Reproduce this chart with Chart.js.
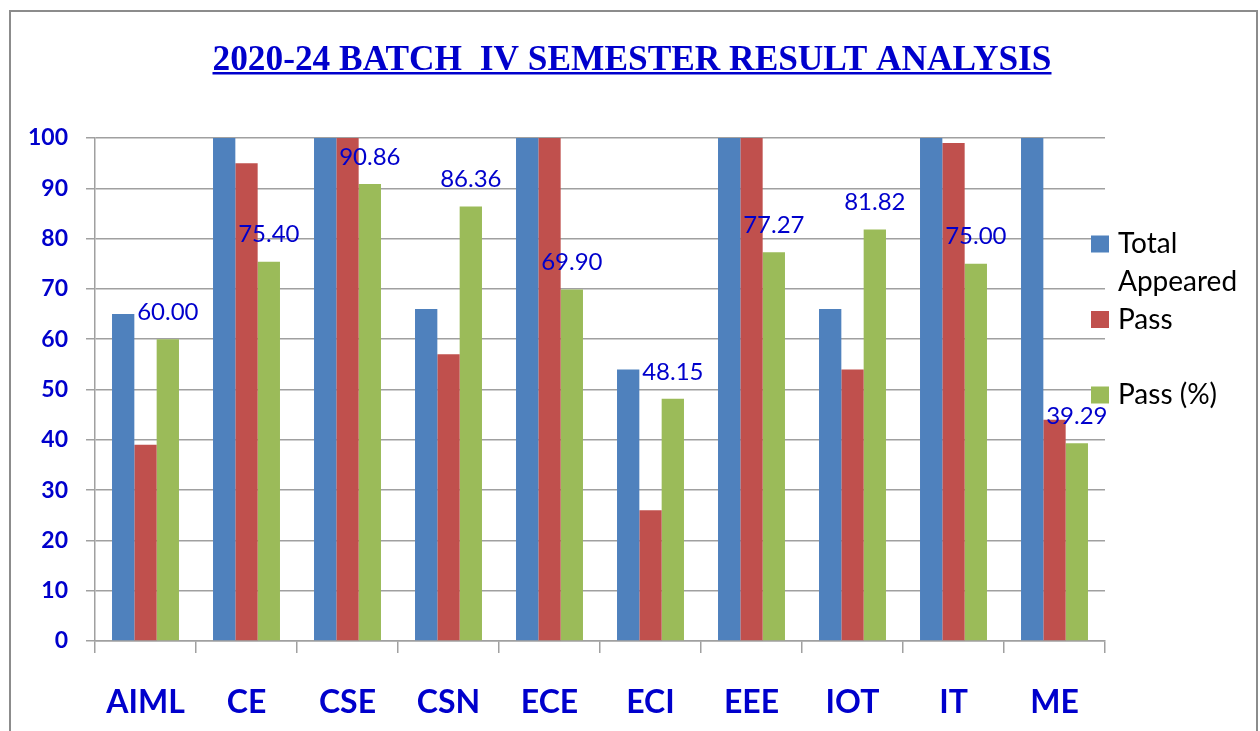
<!DOCTYPE html>
<html>
<head>
<meta charset="utf-8">
<script src="https://cdn.jsdelivr.net/npm/chart.js@4.4.0/dist/chart.umd.min.js"></script>
<style>
  html, body { margin: 0; padding: 0; background: #fff; overflow: hidden; }
  #wrap { width: 1260px; height: 731px; }
</style>
</head>
<body>
<div id="wrap"><canvas id="chartCanvas" width="1260" height="731"></canvas></div>
<script>
// chart data
const chartTitle = '2020-24 BATCH  IV SEMESTER RESULT ANALYSIS';
const branches = ['AIML', 'CE', 'CSE', 'CSN', 'ECE', 'ECI', 'EEE', 'IOT', 'IT', 'ME'];
const totalAppeared = [65, 126, 175, 66, 206, 54, 132, 66, 132, 112];
const passed = [39, 95, 159, 57, 144, 26, 102, 54, 99, 44];
const passPercent = [60.00, 75.40, 90.86, 86.36, 69.90, 48.15, 77.27, 81.82, 75.00, 39.29];
const yTickValues = [0, 10, 20, 30, 40, 50, 60, 70, 80, 90, 100];
const seriesNames = ['Total Appeared', 'Pass', 'Pass (%)'];

const BLUE_TEXT = '#0000CC';
const GRID = '#a0a0a0';

// white background + grey frame round the chart
const framePlugin = {
    id: 'frame',
    beforeDraw(chart) {
        const ctx = chart.ctx;
        ctx.save();
        ctx.fillStyle = '#fff';
        ctx.fillRect(0, 0, chart.width, chart.height);
        ctx.strokeStyle = '#8c8c8c';
        ctx.lineWidth = 2;
        ctx.strokeRect(10, 11, chart.width - 13, chart.height + 20);
        ctx.restore();
    }
};

// underlined serif title (condensed to the original width)
const titlePlugin = {
    id: 'underlinedTitle',
    afterDraw(chart) {
        const ctx = chart.ctx;
        const targetWidth = 839;
        const cx = chart.width / 2 + 2;
        ctx.save();
        ctx.font = 'bold 36px "Liberation Serif"';
        const w = ctx.measureText(chartTitle).width;
        ctx.translate(cx, 70);
        ctx.scale(targetWidth / w, 1);
        ctx.fillStyle = BLUE_TEXT;
        ctx.textAlign = 'center';
        ctx.textBaseline = 'alphabetic';
        ctx.fillText(chartTitle, 0, 0);
        ctx.restore();
        ctx.save();
        ctx.fillStyle = BLUE_TEXT;
        ctx.fillRect(cx - targetWidth / 2, 72, targetWidth, 2.5);
        ctx.restore();
    }
};

// value labels above the Pass (%) bars
const valueLabelPlugin = {
    id: 'valueLabels',
    afterDatasetsDraw(chart) {
        const ctx = chart.ctx;
        const meta = chart.getDatasetMeta(2);
        ctx.save();
        ctx.font = '24px Lato';
        ctx.fillStyle = BLUE_TEXT;
        ctx.textAlign = 'center';
        ctx.textBaseline = 'middle';
        meta.data.forEach((bar, i) => {
            ctx.fillText(passPercent[i].toFixed(2), bar.x, bar.y - 27);
        });
        ctx.restore();
    }
};

// legend on the right, with word wrap like the original
const legendPlugin = {
    id: 'sideLegend',
    afterDraw(chart) {
        const ctx = chart.ctx;
        const boxX = 1091, textX = 1118, maxW = 135;
        const slot = 75.5, lineH = 38;
        let y = 244;
        ctx.save();
        ctx.font = '28px Lato';
        ctx.textBaseline = 'middle';
        chart.data.datasets.forEach(ds => {
            ctx.fillStyle = ds.backgroundColor;
            ctx.fillRect(boxX, y - 8.5, 18, 17);
            // wrap words
            const words = ds.label.split(' ');
            const lines = [];
            let cur = '';
            words.forEach(wd => {
                const test = cur ? cur + ' ' + wd : wd;
                if (ctx.measureText(test).width > maxW && cur) {
                    lines.push(cur);
                    cur = wd;
                } else {
                    cur = test;
                }
            });
            lines.push(cur);
            ctx.fillStyle = '#000';
            lines.forEach((ln, k) => ctx.fillText(ln, textX, y + k * lineH));
            y += slot;
        });
        ctx.restore();
    }
};

new Chart(document.getElementById('chartCanvas'), {
    type: 'bar',
    data: {
        labels: branches,
        datasets: [
            { label: seriesNames[0], data: totalAppeared, backgroundColor: '#4F81BD' },
            { label: seriesNames[1], data: passed, backgroundColor: '#C0504D' },
            { label: seriesNames[2], data: passPercent, backgroundColor: '#9BBB59' }
        ]
    },
    options: {
        responsive: false,
        animation: false,
        devicePixelRatio: 1,
        layout: { padding: { top: 138, right: 155, left: 0, bottom: 0 } },
        datasets: {
            bar: { categoryPercentage: 0.663, barPercentage: 1.0 }
        },
        plugins: {
            legend: { display: false },
            title: { display: false },
            tooltip: { enabled: false }
        },
        scales: {
            x: {
                grid: {
                    offset: true,
                    drawOnChartArea: false,
                    tickLength: 12,
                    color: GRID,
                    lineWidth: 1.5
                },
                border: { display: true, color: GRID, width: 1.5 },
                ticks: {
                    color: BLUE_TEXT,
                    font: { family: 'Lato', size: 32, weight: 'bold' },
                    padding: 30,
                    maxRotation: 0
                },
                afterFit(scale) { scale.height = 90; }
            },
            y: {
                min: 0,
                max: 100,
                afterBuildTicks(scale) {
                    scale.ticks = yTickValues.map(v => ({ value: v }));
                },
                grid: {
                    color: GRID,
                    lineWidth: 1.5,
                    tickLength: 9
                },
                border: { display: true, color: GRID, width: 1.5 },
                ticks: {
                    color: BLUE_TEXT,
                    font: { family: 'Lato', size: 23, weight: 'bold' },
                    padding: 18
                },
                afterFit(scale) { scale.width = 95; }
            }
        }
    },
    plugins: [framePlugin, valueLabelPlugin, titlePlugin, legendPlugin]
});
</script>
</body>
</html>
